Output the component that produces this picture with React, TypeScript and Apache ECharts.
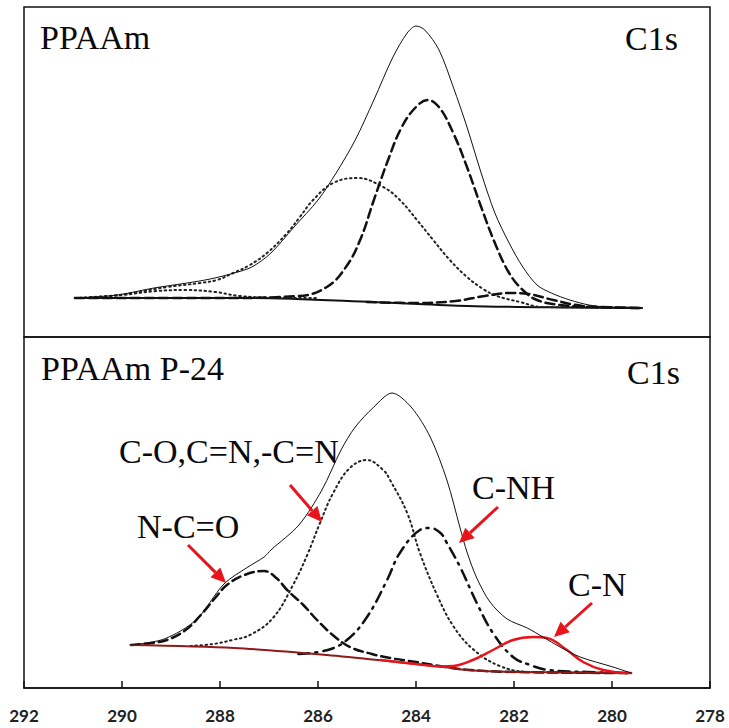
import React, { useEffect, useRef } from "react";
import * as echarts from "echarts";

// Binding energy axis (eV), reversed: 292 on the left, 278 on the right
const xMin = 278;
const xMax = 292;
const xStep = 2;

const panelTitles = ["PPAAm", "PPAAm P-24"];
const coreLevel = "C1s";
const peakLabels = ["C-O,C=N,-C=N", "N-C=O", "C-NH", "C-N"];

// ---------- Top panel (PPAAm) : [binding energy, intensity a.u.] ----------
const topEnvelope: [number, number][] = [
  [290.96, 39], [290.1, 42], [289.35, 49], [288.67, 54], [288.2, 58], [287.71, 64],
  [287.35, 70], [286.96, 84], [286.49, 110], [286.0, 137], [285.63, 164], [285.24, 197],
  [284.86, 237], [284.47, 280], [284.18, 304], [284.0, 311], [283.82, 307], [283.53, 287],
  [283.24, 250], [282.96, 210], [282.67, 164], [282.39, 124], [282.1, 94], [281.82, 70],
  [281.53, 52], [281.24, 44], [280.86, 37], [280.47, 32], [280.1, 30], [279.39, 29],
];
const topBaseline: [number, number][] = [
  [290.96, 39], [287.43, 39], [284.86, 35], [282.96, 31], [281.0, 29.5], [279.39, 29],
];
const topMainDashed: [number, number][] = [
  [290.96, 39], [288.0, 39], [286.39, 41], [285.82, 50], [285.43, 70], [285.14, 97],
  [284.86, 137], [284.57, 177], [284.29, 210], [284.0, 230], [283.76, 237], [283.53, 230],
  [283.24, 204], [282.96, 170], [282.67, 130], [282.39, 94], [282.1, 64], [281.82, 47],
  [281.53, 37], [281.06, 32], [280.24, 30], [279.39, 29],
];
const topSmallDashed: [number, number][] = [
  [285.0, 35], [284.0, 34], [283.2, 36], [282.6, 41], [282.1, 44], [281.7, 43],
  [281.2, 37], [280.6, 31], [280.0, 29.5], [279.39, 29],
];
const topDotted: [number, number][] = [
  [290.96, 39], [290.45, 40], [289.78, 44], [289.08, 50], [288.41, 54], [288.06, 57],
  [287.73, 64], [287.39, 72], [287.04, 84], [286.63, 104], [286.37, 120], [286.1, 137],
  [285.69, 154], [285.2, 159], [284.67, 150], [284.33, 137], [283.98, 117], [283.65, 97],
  [283.31, 77], [282.96, 60], [282.63, 48], [282.35, 41], [281.88, 35], [281.43, 30],
  [280.24, 29.5], [279.39, 29],
];
const topSmallDotted: [number, number][] = [
  [290.96, 39], [290.0, 42], [289.3, 46], [288.7, 47], [288.1, 45], [287.6, 41],
  [287.0, 39.5], [286.0, 39],
];

// ---------- Bottom panel (PPAAm P-24) ----------
const botEnvelope: [number, number][] = [
  [289.82, 43], [289.14, 49], [288.49, 68], [287.92, 104], [287.43, 121], [287.1, 131],
  [286.96, 138], [286.39, 163], [285.92, 198], [285.53, 238], [285.24, 261], [284.86, 281],
  [284.49, 295], [284.1, 281], [283.71, 251], [283.37, 208], [283.1, 160], [282.96, 136],
  [282.76, 110], [282.49, 86], [282.14, 69], [281.73, 60], [281.41, 51], [281.06, 41],
  [280.65, 31], [279.98, 21], [279.61, 15],
];
const botBaseline: [number, number][] = [
  [289.82, 43], [287.71, 40], [285.82, 33], [284.39, 26], [283.43, 21], [282.96, 18],
  [282.0, 16], [279.61, 15],
];
const botNCO: [number, number][] = [
  [289.82, 43], [289.4, 45], [289.08, 48], [288.7, 58], [288.41, 72], [288.1, 90],
  [287.86, 103], [287.5, 113], [287.1, 117], [286.85, 110], [286.63, 98], [286.3, 83],
  [286.02, 68], [285.7, 53], [285.35, 41], [284.9, 34], [284.53, 30], [284.0, 26],
  [283.4, 21], [282.9, 18], [282.0, 16], [279.61, 15],
];
const botCO: [number, number][] = [
  [288.6, 42], [288.14, 44], [287.75, 48], [287.39, 53], [286.92, 70], [286.51, 103],
  [286.22, 133], [285.96, 165], [285.69, 195], [285.35, 220], [285.0, 228], [284.67, 218],
  [284.53, 208], [284.18, 175], [283.92, 135], [283.57, 93], [283.24, 62], [282.84, 39],
  [282.29, 22], [281.67, 16], [279.61, 15],
];
const botCNH: [number, number][] = [
  [286.4, 34], [285.8, 38], [285.41, 48], [285.0, 71], [284.59, 108], [284.33, 135],
  [283.92, 158], [283.71, 160], [283.5, 155], [283.37, 145], [283.1, 121], [282.76, 85],
  [282.43, 55], [282.02, 31], [281.67, 23], [281.3, 18], [280.5, 16], [279.61, 15],
];
const botCN: [number, number][] = [
  [284.73, 28], [284.0, 24], [283.5, 21.5], [283.24, 22], [282.84, 28], [282.43, 38],
  [282.02, 48], [281.61, 51], [281.33, 50], [280.92, 38], [280.59, 26], [280.18, 18],
  [279.69, 15], [279.61, 15],
];

const SERIF = "'Liberation Serif', 'Times New Roman', serif";

function arrow(x1: number, y1: number, x2: number, y2: number, color: string) {
  const dx = x2 - x1;
  const dy = y2 - y1;
  const len = Math.sqrt(dx * dx + dy * dy);
  const ux = dx / len;
  const uy = dy / len;
  const head = 15;
  const half = 7;
  const bx = x2 - ux * head;
  const by = y2 - uy * head;
  return [
    {
      type: "line",
      z: 100,
      shape: { x1, y1, x2: bx, y2: by },
      style: { stroke: color, lineWidth: 3 },
      silent: true,
    },
    {
      type: "polygon",
      z: 100,
      shape: {
        points: [
          [x2, y2],
          [bx - uy * half, by + ux * half],
          [bx + uy * half, by - ux * half],
        ],
      },
      style: { fill: color },
      silent: true,
    },
  ];
}

function txt(text: string, x: number, y: number, align: string = "left") {
  return {
    type: "text",
    z: 100,
    x,
    y,
    silent: true,
    style: {
      text,
      fill: "#0a0a0a",
      font: `34px ${SERIF}`,
      align,
      verticalAlign: "middle",
    },
  };
}

export default function App() {
  const ref = useRef<HTMLDivElement>(null);

  useEffect(() => {
    document.body.style.margin = "0";
    if (!ref.current) return;
    const chart = echarts.init(ref.current, undefined, { renderer: "svg" });

    const line = (
      data: [number, number][],
      idx: number,
      color: string,
      width: number,
      type: any,
      smooth: number | boolean = 0.4,
      z = 2
    ) => ({
      type: "line",
      xAxisIndex: idx,
      yAxisIndex: idx,
      data,
      smooth,
      symbol: "none",
      silent: true,
      z,
      lineStyle: { color, width, type, cap: "round" },
    });

    const DASH = [9, 5];
    const DOT = [1.5, 3.5];
    const DASHDOT = [11, 6, 2, 6];
    const RED = "#e8141b";
    const DARKRED = "#8e1a1a";

    const option: any = {
      animation: false,
      backgroundColor: "#fff",
      grid: [
        { left: 24, top: 7, width: 686, height: 330, show: true, borderColor: "#111", borderWidth: 1.5, containLabel: false },
        { left: 24, top: 337, width: 686, height: 351, show: true, borderColor: "#111", borderWidth: 1.5, containLabel: false },
      ],
      xAxis: [
        {
          type: "value", gridIndex: 0, min: xMin, max: xMax, interval: xStep, inverse: true,
          show: false, splitLine: { show: false },
        },
        {
          type: "value", gridIndex: 1, min: xMin, max: xMax, interval: xStep, inverse: true,
          axisLine: { show: true, lineStyle: { color: "#111", width: 1.5 } },
          axisTick: { show: true, inside: true, length: 7, lineStyle: { color: "#111", width: 1.5 } },
          axisLabel: {
            show: true, margin: 19, color: "#222", fontFamily: "Lato, 'Open Sans', sans-serif",
            fontWeight: "bold", fontSize: 17, showMinLabel: true, showMaxLabel: true,
          },
          splitLine: { show: false },
        },
      ],
      yAxis: [
        { type: "value", gridIndex: 0, min: 0, max: 330, show: false, splitLine: { show: false } },
        { type: "value", gridIndex: 1, min: 0, max: 351, show: false, splitLine: { show: false } },
      ],
      series: [
        // top panel
        line(topBaseline, 0, "#111", 2, "solid", 0.3),
        line(topSmallDotted, 0, "#222", 2, DOT),
        line(topDotted, 0, "#222", 2, DOT),
        line(topSmallDashed, 0, "#111", 2.5, DASH),
        line(topMainDashed, 0, "#111", 2.5, DASH),
        line(topEnvelope, 0, "#111", 1, "solid", 0.3, 5),
        // bottom panel
        line(botNCO, 1, "#111", 2.5, DASH),
        line(botCO, 1, "#222", 2, DOT),
        line(botCNH, 1, "#111", 2.5, DASHDOT),
        line(botBaseline, 1, DARKRED, 2, "solid", 0.3, 3),
        line(botCN, 1, RED, 2.5, "solid", 0.4, 4),
        line(botEnvelope, 1, "#111", 1, "solid", 0.3, 5),
      ],
      graphic: [
        txt(panelTitles[0], 40, 37),
        txt(coreLevel, 678, 38, "right"),
        txt(panelTitles[1], 41, 368),
        txt(coreLevel, 680, 372, "right"),
        txt(peakLabels[0], 119, 451),
        txt(peakLabels[1], 137, 526),
        txt(peakLabels[2], 472, 487),
        txt(peakLabels[3], 568, 584),
        ...arrow(188, 545, 226, 583, RED),
        ...arrow(290, 485, 322, 522, RED),
        ...arrow(498, 507, 459, 543, RED),
        ...arrow(592, 603, 554, 637, RED),
      ],
    };

    chart.setOption(option);
    return () => chart.dispose();
  }, []);

  return (
    <div
      ref={ref}
      style={{ position: "fixed", left: 0, top: 0, width: 729, height: 728, background: "#fff" }}
    />
  );
}
